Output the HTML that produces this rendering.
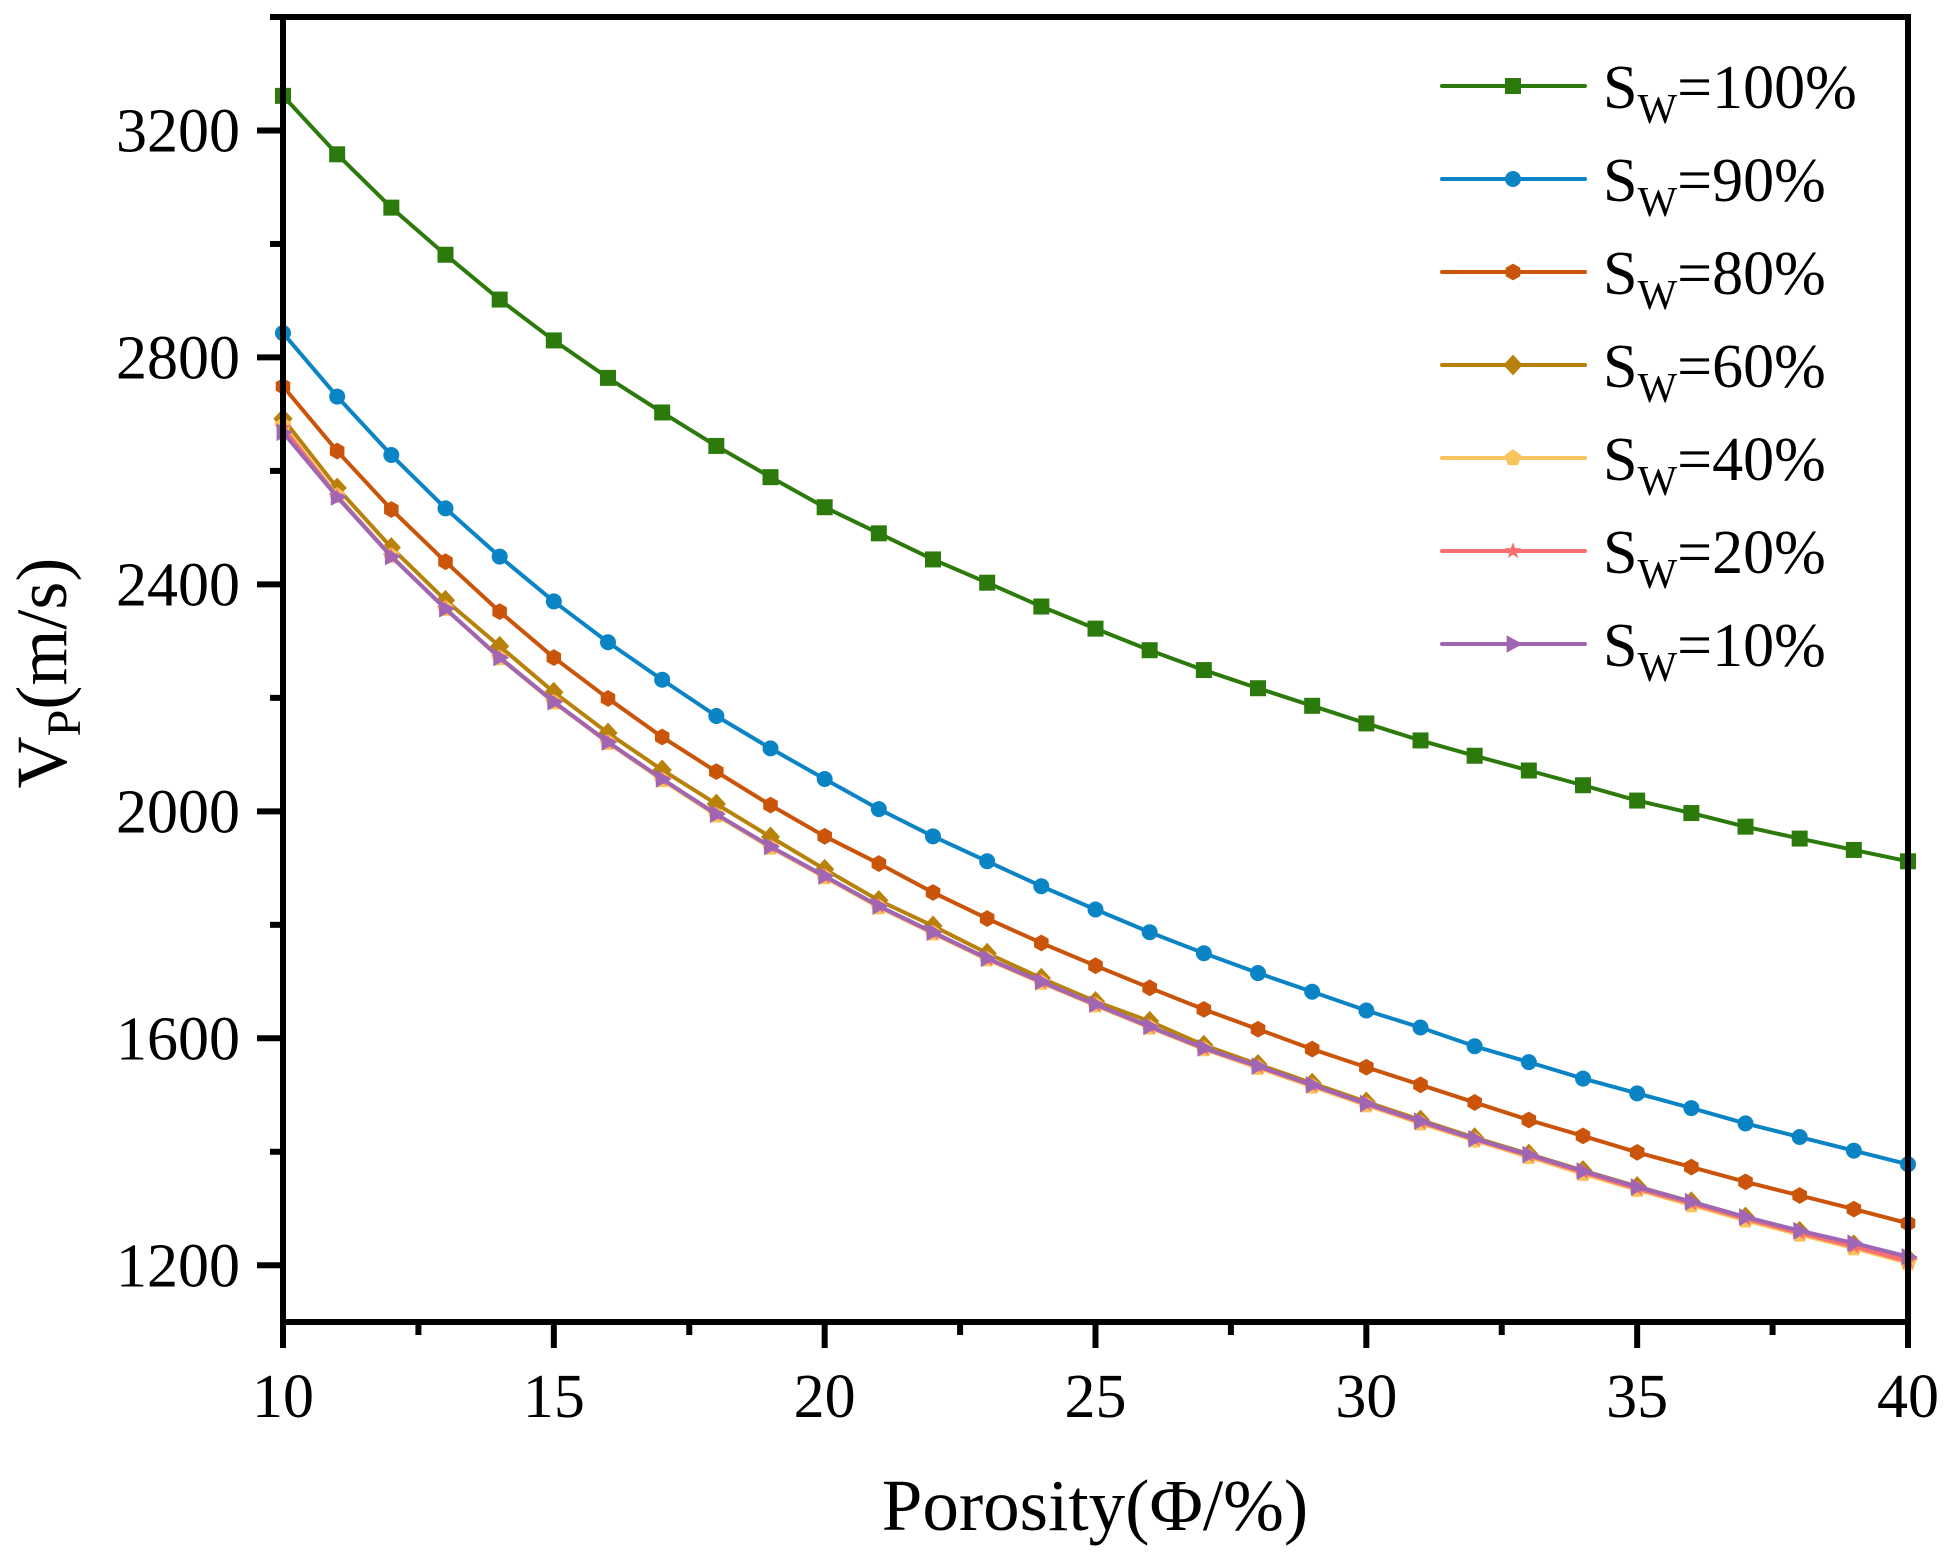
<!DOCTYPE html>
<html><head><meta charset="utf-8"><style>
html,body{margin:0;padding:0;background:#fff;}
svg{display:block;font-family:"Liberation Serif",serif;}
</style></head><body>
<svg id="chart" width="1949" height="1564" viewBox="0 0 1949 1564" xmlns="http://www.w3.org/2000/svg">
<g id="plot"></g>
</svg>
<script>
const porosity = [10,11,12,13,14,15,16,17,18,19,20,21,22,23,24,25,26,27,28,29,30,31,32,33,34,35,36,37,38,39,40];
const sw100 = [3261,3158,3064,2981,2902,2830,2764,2703,2644,2589,2536,2490,2444,2403,2361,2322,2284,2249,2217,2186,2155,2125,2098,2072,2046,2019,1997,1973,1952,1932,1912];
const sw90 = [2843,2731,2628,2534,2449,2370,2298,2232,2168,2111,2057,2004,1956,1912,1868,1827,1787,1750,1715,1682,1649,1619,1586,1558,1529,1503,1477,1450,1426,1402,1378];
const sw80 = [2749,2635,2532,2440,2352,2271,2199,2131,2070,2011,1956,1908,1857,1811,1768,1728,1689,1651,1616,1581,1549,1518,1487,1456,1428,1399,1373,1347,1323,1299,1274];
const sw60 = [2692,2570,2465,2372,2291,2210,2138,2073,2013,1955,1898,1843,1798,1750,1706,1665,1630,1588,1554,1521,1488,1456,1425,1396,1367,1339,1312,1285,1260,1236,1212];
const sw40 = [2680,2556,2450,2357,2270,2192,2121,2055,1993,1936,1884,1831,1785,1739,1698,1658,1619,1581,1548,1515,1482,1450,1420,1391,1361,1333,1306,1279,1254,1230,1204];
const sw20 = [2676,2555,2449,2357,2271,2193,2122,2057,1995,1938,1885,1833,1786,1740,1699,1659,1620,1582,1550,1517,1484,1452,1422,1393,1364,1335,1309,1282,1257,1233,1207];
const sw10 = [2668,2554,2449,2357,2271,2193,2122,2057,1995,1938,1886,1833,1787,1741,1700,1660,1621,1583,1551,1518,1485,1454,1423,1395,1366,1338,1312,1285,1261,1239,1215];
const xTicks = [10,15,20,25,30,35,40];
const yTicks = [1200,1600,2000,2400,2800,3200];
const seriesNames = ["100%","90%","80%","60%","40%","20%","10%"];

const L=283,R=1908,T=17,B=1322, XMIN=10,XMAX=40,YMIN=1100,YMAX=3400;
const xs=v=>L+(v-XMIN)/(XMAX-XMIN)*(R-L);
const ys=v=>B-(v-YMIN)/(YMAX-YMIN)*(B-T);
const NS="http://www.w3.org/2000/svg";
const g=document.getElementById('plot');
function mk(tag,attrs,parent){const e=document.createElementNS(NS,tag);for(const k in attrs)e.setAttribute(k,attrs[k]);(parent||g).appendChild(e);return e;}

const series=[
 {d:sw100,c:"#2d7a0c",m:"square",n:"series-sw-100"},
 {d:sw90,c:"#0b84c6",m:"circle",n:"series-sw-90"},
 {d:sw80,c:"#c9540a",m:"hexagon",n:"series-sw-80"},
 {d:sw60,c:"#b8820a",m:"diamond",n:"series-sw-60"},
 {d:sw40,c:"#f8c45c",m:"pentagon",n:"series-sw-40"},
 {d:sw20,c:"#f76f6f",m:"star",n:"series-sw-20"},
 {d:sw10,c:"#a066b4",m:"triangle",n:"series-sw-10"}
];
function marker(type,x,y,c,parent){
  let e;const s=8;
  if(type==="square"){e=mk('rect',{x:x-s,y:y-s,width:2*s,height:2*s,fill:c},parent);}
  else if(type==="circle"){e=mk('circle',{cx:x,cy:y,r:s,fill:c},parent);}
  else {
    let pts=[];
    if(type==="hexagon"){for(let i=0;i<6;i++){const a=Math.PI/2+i*Math.PI/3;pts.push([x+s*1.05*Math.cos(a),y-s*1.05*Math.sin(a)]);}}
    else if(type==="diamond"){pts=[[x,y-s*1.3],[x+s*1.2,y],[x,y+s*1.3],[x-s*1.2,y]];}
    else if(type==="pentagon"){for(let i=0;i<5;i++){const a=Math.PI/2+i*2*Math.PI/5;pts.push([x+s*1.1*Math.cos(a),y-s*1.1*Math.sin(a)]);}}
    else if(type==="star"){for(let i=0;i<10;i++){const a=Math.PI/2+i*Math.PI/5;const r=i%2?s*0.45:s*1.1;pts.push([x+r*Math.cos(a),y-r*Math.sin(a)]);}}
    else if(type==="triangle"){pts=[[x-s*0.8,y-s*1.1],[x+s*1.2,y],[x-s*0.8,y+s*1.1]];}
    e=mk('polygon',{points:pts.map(p=>p.join(',')).join(' '),fill:c},parent);
  }
  return e;
}
series.forEach(s=>{
  const grp=mk('g',{});
  
  
  const p=mk('polyline',{points:s.d.map((v,i)=>xs(porosity[i])+','+ys(v)).join(' '),fill:'none',stroke:s.c,'stroke-width':4,'stroke-linejoin':'round'},grp);
  
  
  s.d.forEach((v,i)=>{
    const m=marker(s.m,xs(porosity[i]),ys(v),s.c,grp);
    
    
  });
});

// axes frame
const frame=mk('rect',{x:L,y:T,width:R-L,height:B-T,fill:'none',stroke:'#000','stroke-width':6});



xTicks.forEach(v=>{
  const t=mk('line',{x1:xs(v),x2:xs(v),y1:B,y2:B+26,stroke:'#000','stroke-width':6});
  
  
  const l=mk('text',{x:xs(v),y:1417,'font-size':62,'text-anchor':'middle',fill:'#000'});
  l.textContent=v;
  
  
});
for(let k=0;k<xTicks.length-1;k++){
  const v=(xTicks[k]+xTicks[k+1])/2;
  const t=mk('line',{x1:xs(v),x2:xs(v),y1:B,y2:B+13,stroke:'#000','stroke-width':6});
  
  
}
yTicks.forEach(v=>{
  const t=mk('line',{x1:L-26,x2:L,y1:ys(v),y2:ys(v),stroke:'#000','stroke-width':6});
  
  
  const l=mk('text',{x:240,y:ys(v)+21,'font-size':62,'text-anchor':'end',fill:'#000'});
  l.textContent=v;
  
  
});
for(let v=1200;v<=3400;v+=400){
  const t=mk('line',{x1:L-13,x2:L,y1:ys(v+200),y2:ys(v+200),stroke:'#000','stroke-width':6});
  
  
}

// axis titles
const xt=mk('text',{x:1095,y:1530,'font-size':73,'text-anchor':'middle',fill:'#000'});
xt.textContent='Porosity(Φ/%)';


const yt=mk('text',{x:0,y:0,'font-size':72,'text-anchor':'middle',fill:'#000',transform:'translate(66,673) rotate(-90)'});
yt.innerHTML='V<tspan font-size="48" dy="14">P</tspan><tspan dy="-14">(m/s)</tspan>';



// legend
const lg=mk('g',{});


series.forEach((s,i)=>{
  const y=86+i*93;
  const eg=mk('g',{},lg);
  
  
  mk('line',{x1:1442,x2:1585,y1:y,y2:y,stroke:s.c,'stroke-width':4,'stroke-linecap':'round'},eg);
  marker(s.m,1513,y,s.c,eg);
  const t=mk('text',{x:1603,y:y+22,'font-size':62,fill:'#000'},eg);
  t.innerHTML='S<tspan font-size="42" dy="15">W</tspan><tspan dy="-15">='+seriesNames[i]+'</tspan>';
});
</script>
</body></html>
